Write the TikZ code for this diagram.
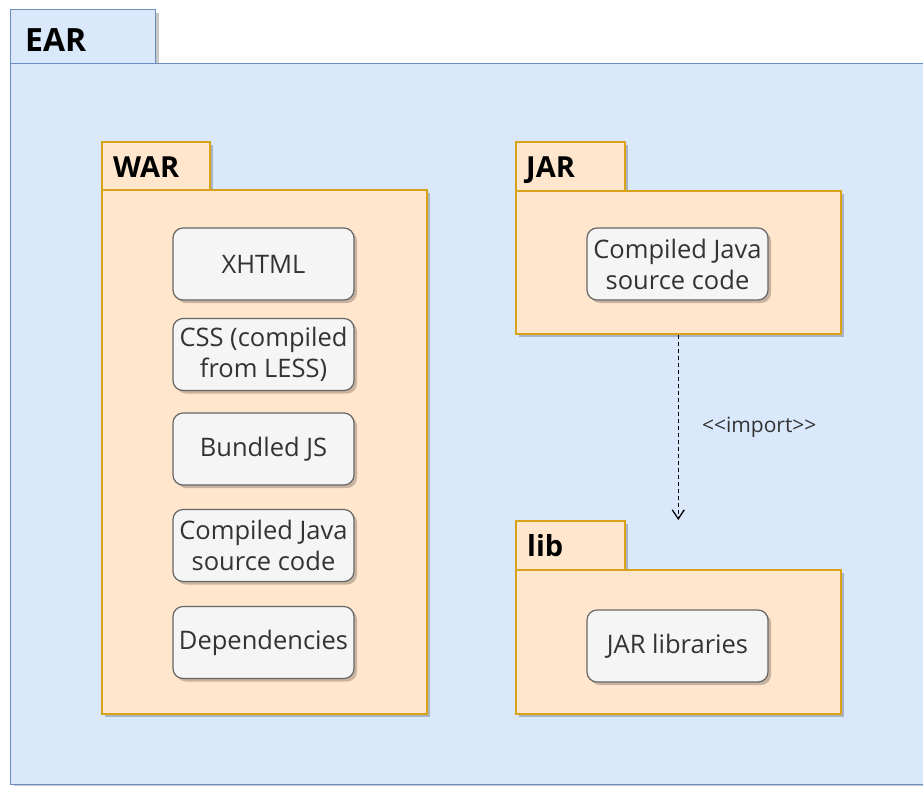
\documentclass[tikz,border=0pt]{standalone}
\usepackage{fontspec}
\setmainfont{Open Sans}
\usetikzlibrary{arrows.meta,shadows,calc}

\definecolor{earfill}{HTML}{DAE8FC}
\definecolor{earline}{HTML}{6C8EBF}
\definecolor{pkgfill}{HTML}{FFE6CC}
\definecolor{pkgline}{HTML}{D9A21B}
\definecolor{itemfill}{HTML}{F5F5F5}
\definecolor{itemline}{HTML}{666666}
\definecolor{itemtext}{HTML}{333333}

\begin{document}
\begin{tikzpicture}[x=1pt,y=-1pt,
  castshadow/.style={drop shadow={shadow xshift=3pt,shadow yshift=-3pt,opacity=0.22,fill=black}},
  earpart/.style={draw=earline,fill=earfill,line width=1.2pt,rectangle,inner sep=0pt,anchor=north west,castshadow},
  pkgpart/.style={draw=pkgline,fill=pkgfill,line width=1.5pt,rectangle,inner sep=0pt,anchor=north west,castshadow},
  item/.style={draw=itemline,fill=itemfill,rounded corners=10pt,line width=1.2pt,
    minimum width=181pt,minimum height=72pt,inner sep=0pt,text=itemtext,
    font=\fontsize{25.5}{31}\selectfont,align=center,castshadow},
  title/.style={anchor=base west,inner sep=0pt,font=\fontsize{29}{34}\selectfont\bfseries},
  dep/.style={line width=1.4pt,dash pattern=on 4pt off 3pt,-{Straight Barb[length=9pt,width=12pt,line width=1.3pt]}},
]
\useasboundingbox (0,0) rectangle (923,785);
\clip (0,0) rectangle (923,785);

% EAR container
\node[earpart,minimum width=145pt,minimum height=54pt] (eartab) at (10,9) {};
\node[earpart,minimum width=940pt,minimum height=721pt] (earbody) at (10,63) {};
\node[title,font=\fontsize{32}{38}\selectfont\bfseries] (eartitle) at (25,51) {EAR};

% WAR package
\node[pkgpart,minimum width=108pt,minimum height=48pt] (wartab) at (101,141) {};
\node[pkgpart,minimum width=325pt,minimum height=524pt] (warbody) at (101,189) {};
\node[title] (wartitle) at (113,177) {WAR};

\node[item] (xhtml) at (263.5,264) {XHTML};
\node[item] (css) at (263.5,354.5) {CSS (compiled\\from LESS)};
\node[item] (js) at (263.5,449) {Bundled JS};
\node[item] (warjava) at (263.5,545.5) {Compiled Java\\source code};
\node[item] (deps) at (263.5,642.5) {Dependencies};

% JAR package
\node[pkgpart,minimum width=109pt,minimum height=49pt] (jartab) at (515,141) {};
\node[pkgpart,minimum width=325pt,minimum height=143pt] (jarbody) at (515,190) {};
\node[title] (jartitle) at (526,177) {JAR};
\node[item] (jarjava) at (677.5,264) {Compiled Java\\source code};

% lib package
\node[pkgpart,minimum width=109pt,minimum height=49pt] (libtab) at (515,520) {};
\node[pkgpart,minimum width=325pt,minimum height=144pt] (libbody) at (515,569) {};
\node[title] (libtitle) at (527,556) {lib};
\node[item] (jarlibs) at (677.5,646) {JAR libraries};

% import dependency
\coordinate (libtop) at (jarbody.south |- libtab.north);
\draw[dep] (jarbody.south) -- (libtop);
\node[text=itemtext,font=\fontsize{21}{25}\selectfont,inner sep=0pt] (importlbl)
  at ($(jarbody.south)!0.5!(libtop) + (81,0)$) {<{}<import>{}>};
\end{tikzpicture}
\end{document}
